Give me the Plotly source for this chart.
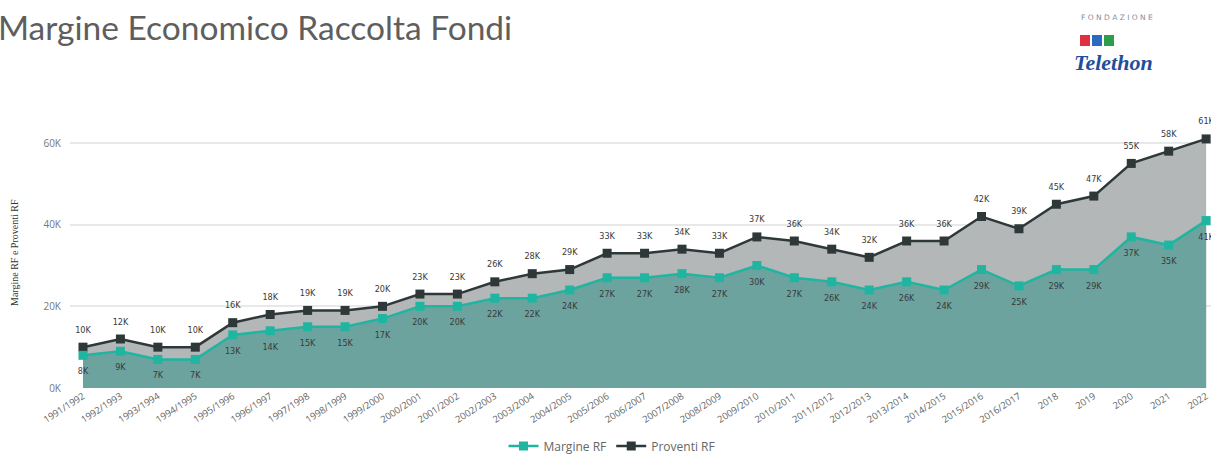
import plotly.graph_objects as go

categories = ["1991/1992", "1992/1993", "1993/1994", "1994/1995", "1995/1996", "1996/1997",
              "1997/1998", "1998/1999", "1999/2000", "2000/2001", "2001/2002", "2002/2003",
              "2003/2004", "2004/2005", "2005/2006", "2006/2007", "2007/2008", "2008/2009",
              "2009/2010", "2010/2011", "2011/2012", "2012/2013", "2013/2014", "2014/2015",
              "2015/2016", "2016/2017", "2018", "2019", "2020", "2021", "2022"]

margine_rf = [8, 9, 7, 7, 13, 14, 15, 15, 17, 20, 20, 22, 22, 24, 27, 27, 28, 27, 30, 27,
              26, 24, 26, 24, 29, 25, 29, 29, 37, 35, 41]
proventi_rf = [10, 12, 10, 10, 16, 18, 19, 19, 20, 23, 23, 26, 28, 29, 33, 33, 34, 33, 37, 36,
               34, 32, 36, 36, 42, 39, 45, 47, 55, 58, 61]

y_ticks = [0, 20000, 40000, 60000]
y_tick_labels = ["0K", "20K", "40K", "60K"]

W, H = 1211, 454
L, R, T, B = 70, 0, 130, 66

MARG_LINE = "#1FB5A0"
PROV_LINE = "#2E3838"


def px(x):
    return (x - L) / (W - L - R)


def py(y):
    return (H - B - y) / (H - B - T)


margine_vals = [v * 1000 for v in margine_rf]
proventi_vals = [v * 1000 for v in proventi_rf]
idx = list(range(len(categories)))
label_font = dict(size=9, color="#3A3A3A", family="DejaVu Sans Condensed")

fig = go.Figure()
# filled areas with lines and markers
fig.add_trace(go.Scatter(
    x=idx, y=proventi_vals, name="Proventi RF", mode="lines+markers",
    fill="tozeroy", fillcolor="#B3B7B7",
    line=dict(color=PROV_LINE, width=2.5),
    marker=dict(symbol="square", size=9, color=PROV_LINE),
    showlegend=False, hoverinfo="skip",
))
fig.add_trace(go.Scatter(
    x=idx, y=margine_vals, name="Margine RF", mode="lines+markers",
    fill="tozeroy", fillcolor="#6DA39F",
    line=dict(color=MARG_LINE, width=2.5),
    marker=dict(symbol="square", size=9, color=MARG_LINE),
    showlegend=False, hoverinfo="skip",
))
# data labels (invisible markers push labels away from points)
fig.add_trace(go.Scatter(
    x=idx, y=proventi_vals, mode="markers+text",
    marker=dict(size=18, color="rgba(0,0,0,0)"),
    text=[f"{v}K" for v in proventi_rf], textposition="top center",
    textfont=label_font, cliponaxis=False, showlegend=False, hoverinfo="skip",
))
fig.add_trace(go.Scatter(
    x=idx, y=margine_vals, mode="markers+text",
    marker=dict(size=18, color="rgba(0,0,0,0)"),
    text=[f"{v}K" for v in margine_rf], textposition="bottom center",
    textfont=label_font, cliponaxis=False, showlegend=False, hoverinfo="skip",
))
# legend entries
fig.add_trace(go.Scatter(
    x=[None], y=[None], name="Margine RF", mode="lines+markers",
    line=dict(color=MARG_LINE, width=2.5),
    marker=dict(symbol="square", size=9, color=MARG_LINE),
))
fig.add_trace(go.Scatter(
    x=[None], y=[None], name="Proventi RF", mode="lines+markers",
    line=dict(color=PROV_LINE, width=2.5),
    marker=dict(symbol="square", size=9, color=PROV_LINE),
))

fig.update_layout(
    width=W, height=H,
    margin=dict(l=L, r=R, t=T, b=B, autoexpand=False),
    paper_bgcolor="white", plot_bgcolor="white",
    font=dict(family="Open Sans", color="#666666"),
    showlegend=True,
    legend=dict(orientation="h", x=px(612), y=py(446), xanchor="center", yanchor="middle",
                font=dict(size=12, color="#666666"), itemwidth=30,
                traceorder="normal", tracegroupgap=0),
    xaxis=dict(
        tickmode="array", tickvals=idx, ticktext=categories, tickangle=-33,
        tickfont=dict(size=9.5, color="#666666"),
        range=[-0.347, 30.13], showgrid=False, zeroline=False, showline=False,
        fixedrange=True, automargin=False,
    ),
    yaxis=dict(
        tickmode="array", tickvals=y_ticks, ticktext=y_tick_labels,
        tickfont=dict(size=10, color="#777777"),
        range=[0, 60000 * (H - B - T) / 245], showgrid=True,
        gridcolor="rgba(0,0,0,0.09)", gridwidth=2, zeroline=False,
        layer="above traces", ticklabelstandoff=8, automargin=False,
    ),
)

annotations = [
    dict(text="Margine Economico Raccolta Fondi", x=px(-4), y=py(27), xref="paper", yref="paper",
         xanchor="left", yanchor="middle", showarrow=False,
         font=dict(size=33.5, color="#5E5E5E", family="Lato")),
    dict(text="Margine RF e Proventi RF", x=px(14), y=py(253), xref="paper", yref="paper",
         xanchor="center", yanchor="middle", showarrow=False, textangle=-90,
         font=dict(size=10, color="#333333", family="Liberation Serif")),
    dict(text="F O N D A Z I O N E", x=px(1117), y=py(17), xref="paper", yref="paper",
         xanchor="center", yanchor="middle", showarrow=False,
         font=dict(size=7.5, color="#7F8FA6", family="DejaVu Sans")),
    dict(text="<b><i>Telethon</i></b>", x=px(1113), y=py(62), xref="paper", yref="paper",
         xanchor="center", yanchor="middle", showarrow=False,
         font=dict(size=22, color="#1E4E9C", family="Liberation Sans Narrow")),
]
fig.update_layout(annotations=annotations)

shapes = []
for cx, col in [(1085, "#E03040"), (1097, "#2A6AC0"), (1109, "#2E9E4A")]:
    shapes.append(dict(type="rect", xref="paper", yref="paper",
                       x0=px(cx - 5), x1=px(cx + 5), y0=py(46), y1=py(35),
                       fillcolor=col, line=dict(width=0)))
fig.update_layout(shapes=shapes)

fig.write_html(
    "out.html",
    config={"displayModeBar": False},
    post_script="document.body.style.margin='0';document.body.style.overflow='hidden';",
)
